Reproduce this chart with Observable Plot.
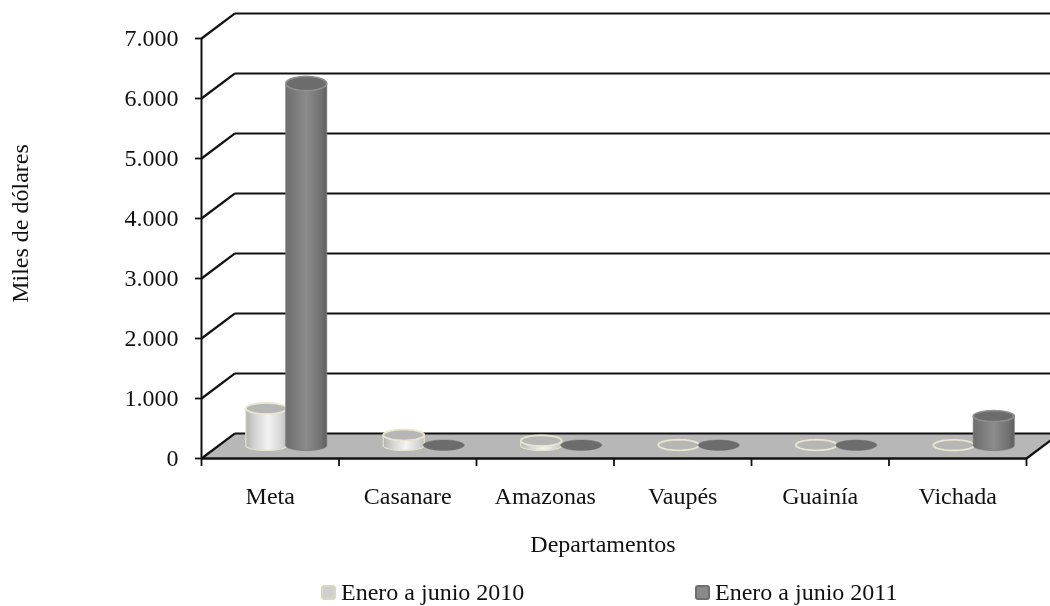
<!DOCTYPE html>
<html>
<head>
<meta charset="utf-8">
<script src="https://cdn.jsdelivr.net/npm/d3@7"></script>
<script src="https://cdn.jsdelivr.net/npm/@observablehq/plot@0.6"></script>
<style>
html,body{margin:0;padding:0;background:#fff;overflow:hidden;width:1050px;height:606px}
#chart svg{display:block;filter:blur(.5px)}
#legend{position:relative;height:27px;overflow:hidden;font:24px "Liberation Serif",serif;color:#111;filter:blur(.4px);white-space:nowrap}
#legend span{position:absolute;top:0;display:flex;align-items:center;line-height:27px}
#legend i{display:inline-block;width:11px;height:11px;border-radius:3px;border:2px solid;margin-right:5px}
</style>
</head>
<body>
<div id="chart"></div>
<div id="legend"></div>
<script>
const departamentos = ["Meta", "Casanare", "Amazonas", "Vaupés", "Guainía", "Vichada"];
const enero2010 = [617, 175, 80, 8, 8, 5];
const enero2011 = [6033, 5, 5, 5, 5, 490];
const yTicks = [0, 1000, 2000, 3000, 4000, 5000, 6000, 7000];
const xEdges = [0, 1, 2, 3, 4, 5, 6];
const serieNames = ["Enero a junio 2010", "Enero a junio 2011"];

// Oblique 3D projection, expressed in scale units (categories, dollars)
const depthX = 33.5 / 137.5, depthY = 417;
const cylDX = 16 / 137.5, cylDY = 217, cylSep = 20 / 137.5, cylA = 20.5 / 137.5;

const floor = [[0, 0], [6, 0], [6 + depthX, depthY], [depthX, depthY], [0, 0]];
const wallTicks = yTicks;

function arc(cx, cy, a, b, t0, t1) {
  return d3.range(41).map(k => {
    const t = t0 + (t1 - t0) * k / 40;
    return [cx + a * Math.cos(t), cy + b * Math.sin(t)];
  });
}
function cylinders(values, sign) {
  return values.flatMap((v, i) => {
    const cx = i + 0.5 + cylDX + sign * cylSep, base = cylDY;
    const bb = 83, tb = 88 + 30 * v / 6000;
    const body = [...arc(cx, base, cylA, bb, Math.PI, 2 * Math.PI), [cx + cylA, base + v], [cx - cylA, base + v], [cx - cylA, base]];
    const top = arc(cx, base + v, cylA, tb, 0, 2 * Math.PI);
    return [{i, body, top}];
  });
}
const flat = (rows, key) => rows.flatMap(r => r[key].map(p => ({i: r.i, x: p[0], y: p[1]})));

const light = cylinders(enero2010, -1), dark = cylinders(enero2011, 1);

const defs = () => {
  const g = d3.create("svg:defs");
  const grad = (id, stops) => {
    const lg = g.append("linearGradient").attr("id", id);
    stops.forEach(([o, c]) => lg.append("stop").attr("offset", o).attr("stop-color", c));
  };
  grad("gLight", [[0, "#b2b2b2"], [.2, "#d0d0d0"], [.55, "#f3f3f3"], [.85, "#d6d6d6"], [1, "#bdbdbd"]]);
  grad("gDark", [[0, "#6e6e6e"], [.5, "#8b8b8b"], [.85, "#727272"], [1, "#5e5e5e"]]);
  return g.node();
};

// Draw cylinders per category so overlap follows the reference
const cylMarks = departamentos.flatMap((_, i) => {
  const lb = flat([light[i]], "body"), lt = flat([light[i]], "top");
  const db = flat([dark[i]], "body"), dt = flat([dark[i]], "top");
  const out = [];
  if (enero2010[i] > 20) out.push(Plot.line(lb, {x: "x", y: "y", fill: "url(#gLight)", stroke: "#e6e3c9", strokeWidth: 1.2}));
  out.push(Plot.line(lt, {x: "x", y: "y", fill: "#b6b6b6", stroke: "#e9e6cd", strokeWidth: 1.8}));
  if (enero2011[i] > 20) out.push(Plot.line(db, {x: "x", y: "y", fill: "url(#gDark)", stroke: "#777", strokeWidth: 0.8}));
  out.push(Plot.line(dt, {x: "x", y: "y", fill: "#6c6c6c", stroke: enero2011[i] > 20 ? "#8f8f8f" : "#707070", strokeWidth: enero2011[i] > 20 ? 1.6 : 0.4}));
  return out;
});

const plot = Plot.plot({
  width: 1050, height: 579,
  marginLeft: 201, marginRight: 24, marginTop: 38, marginBottom: 121,
  style: {fontFamily: '"Liberation Serif", serif', fontSize: "24px", color: "#111", background: "#fff"},
  x: {domain: [0, 6]},
  y: {domain: [0, 7000]},
  marks: [
    defs,
    Plot.line(floor, {x: d => d[0], y: d => d[1], fill: "#b7b7b7", stroke: "none"}),
    // back wall grid lines
    Plot.link(wallTicks, {x1: depthX, x2: 6 + depthX, y1: d => d + depthY, y2: d => d + depthY, stroke: "#111", strokeWidth: 2}),
    // side wall slants
    Plot.link(wallTicks, {x1: 0, x2: depthX, y1: d => d, y2: d => d + depthY, stroke: "#111", strokeWidth: 2.2}),
    // floor right edge
    Plot.link([0], {x1: 6, x2: 6 + depthX, y1: 0, y2: depthY, stroke: "#111", strokeWidth: 2.2}),
    ...cylMarks,
    Plot.ruleX([0], {y1: 0, y2: 7000, stroke: "#111", strokeWidth: 2}),
    Plot.ruleY([0], {x1: 0, x2: 6, stroke: "#111", strokeWidth: 2.4}),
    Plot.axisY({ticks: yTicks, tickFormat: d => d3.format(",")(d).replace(/,/g, "."), tickSize: 6, tickPadding: 17, strokeWidth: 1.8, stroke: "#111",
      fontSize: 24, label: null}),
    Plot.axisX({ticks: xEdges, tickFormat: () => "", tickSize: 8, stroke: "#111", strokeWidth: 1.8, label: null}),
    Plot.axisX({ticks: departamentos.map((_, i) => i + 0.5), tickFormat: d => departamentos[Math.floor(d)], tickSize: 0, tickPadding: 28,
      fontSize: 24, label: null}),
    Plot.text(["Departamentos"], {x: 3, y: 0, text: d => d, dx: -11, dy: 86, fontSize: 24, fill: "#111"}),
    Plot.text(["Miles de dólares"], {x: 0, y: 3500, text: d => d, rotate: -90, dx: -181, dy: -25, fontSize: 24, fill: "#111"})
  ]
});
document.getElementById("chart").append(plot);

const lg = document.getElementById("legend");
[["#dcd9c0", "#cfcfcf", 321], ["#6f6f6f", "#8a8a8a", 695]].forEach(([b, f, left], k) => {
  const s = document.createElement("span");
  s.style.left = left + "px";
  s.innerHTML = `<i style="border-color:${b};background:${f}"></i>${serieNames[k]}`;
  lg.append(s);
});
</script>
</body>
</html>
